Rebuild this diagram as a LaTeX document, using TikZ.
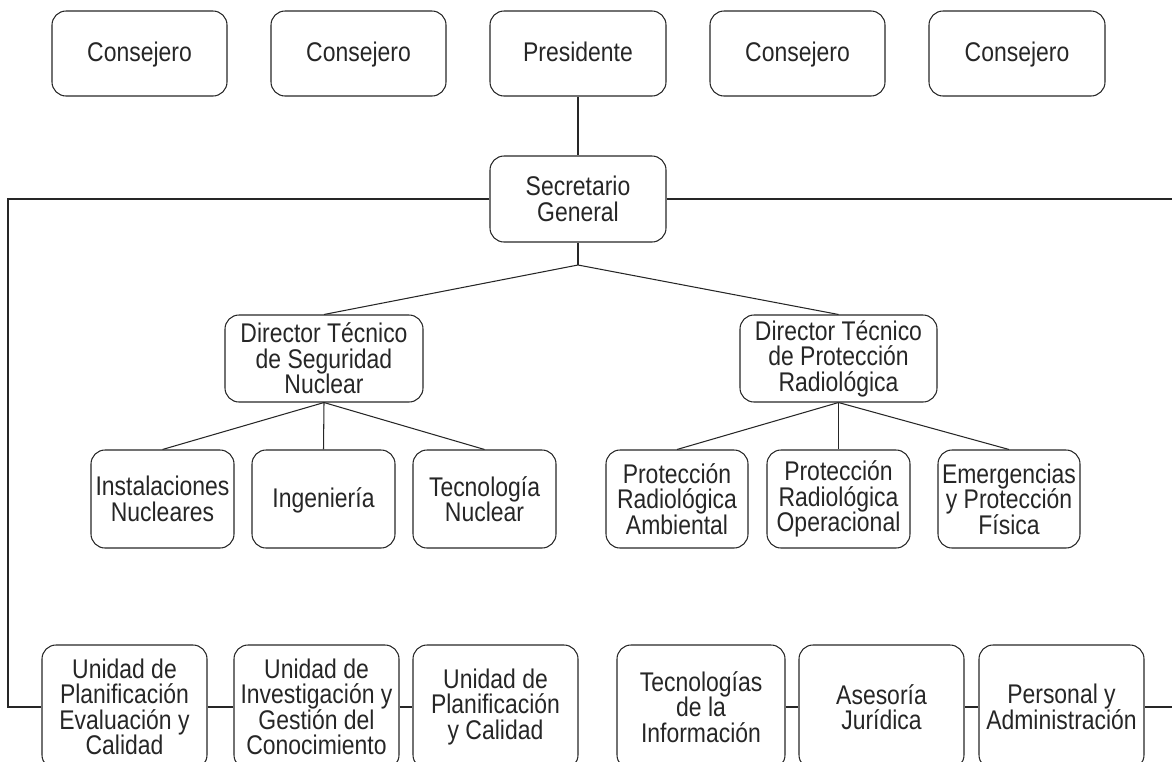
\documentclass[tikz,border=0pt]{standalone}
\usepackage{fontspec}
\setmainfont{Liberation Sans}[FakeStretch=0.85]
\begin{document}
\begin{tikzpicture}[x=1pt,y=-1pt,
  box/.style={draw=black!85, line width=1.05pt, rounded corners=14pt, align=center, inner sep=0pt,
    font=\fontsize{27}{25.5}\selectfont, text=black!85},
  single/.style={text height=19pt, text depth=3pt},
  link/.style={draw=black!85, line width=1.05pt}]
\useasboundingbox (0,0) rectangle (1172,761);
\clip (0,0) rectangle (1172,761);
% top row
\node[box, single, minimum width=175pt, minimum height=85pt] (c1) at (139.5,53.5) {Consejero};
\node[box, single, minimum width=175pt, minimum height=85pt] (c2) at (358.5,53.5) {Consejero};
\node[box, single, minimum width=176pt, minimum height=85pt] (pres) at (578,53.5) {Presidente};
\node[box, single, minimum width=175pt, minimum height=85pt] (c3) at (797.5,53.5) {Consejero};
\node[box, single, minimum width=176pt, minimum height=85pt] (c4) at (1017,53.5) {Consejero};
% secretario
\node[box, minimum width=176pt, minimum height=86pt] (sec) at (578,199) {Secretario\\General};
% directors
\node[box, minimum width=198pt, minimum height=87pt] (dsn) at (324,358.5) {Director Técnico\\de Seguridad\\Nuclear};
\node[box, minimum width=197pt, minimum height=87pt] (dpr) at (838.5,358.5) {Director Técnico\\de Protección\\Radiológica};
% children
\node[box, minimum width=143pt, minimum height=98pt] (inst) at (162.5,499) {Instalaciones\\Nucleares};
\node[box, single, minimum width=143pt, minimum height=98pt] (ing) at (323.5,499) {Ingeniería};
\node[box, minimum width=143pt, minimum height=98pt] (tec) at (484.5,499) {Tecnología\\Nuclear};
\node[box, minimum width=142pt, minimum height=98pt] (pra) at (677,499) {Protección\\Radiológica\\Ambiental};
\node[box, minimum width=143pt, minimum height=98pt] (pro) at (838.5,499) {Protección\\Radiológica\\Operacional};
\node[box, minimum width=142pt, minimum height=98pt] (emg) at (1009,499) {Emergencias\\y Protección\\Física};
% bottom row
\node[box, minimum width=165pt, minimum height=124pt] (u1) at (124.5,707) {Unidad de\\Planificación\\Evaluación y\\Calidad};
\node[box, minimum width=165pt, minimum height=124pt] (u2) at (316.5,707) {Unidad de\\Investigación y\\Gestión del\\Conocimiento};
\node[box, minimum width=165pt, minimum height=124pt] (u3) at (495.5,707) {Unidad de\\Planificación\\y Calidad};
\node[box, minimum width=168pt, minimum height=124pt] (u4) at (701,707) {Tecnologías\\de la\\Información};
\node[box, minimum width=165pt, minimum height=124pt] (u5) at (881.5,707) {Asesoría\\Jurídica};
\node[box, minimum width=165pt, minimum height=124pt] (u6) at (1061.5,707) {Personal y\\Administración};
% connectors
\coordinate (j1) at (578,265);
\coordinate (lft) at (8,199);
\coordinate (rgt) at (1190,199);
\draw[link] (pres.south) -- (sec.north);
\draw[link] (sec.south) -- (j1);
\draw[link] (j1) -- (dsn.north);
\draw[link] (j1) -- (dpr.north);
\draw[link] (dsn.south) -- (inst.north);
\draw[link] (dsn.south) -- (ing.north);
\draw[link] (dsn.south) -- (tec.north);
\draw[link] (dpr.south) -- (pra.north);
\draw[link] (dpr.south) -- (pro.north);
\draw[link] (dpr.south) -- (emg.north);
\draw[link] (sec.west) -- (lft) |- (u1.west);
\draw[link] (sec.east) -- (rgt) |- (u6.east);
\draw[link] (u1) -- (u2);
\draw[link] (u2) -- (u3);
\draw[link] (u4) -- (u5);
\draw[link] (u5) -- (u6);
\end{tikzpicture}
\end{document}
